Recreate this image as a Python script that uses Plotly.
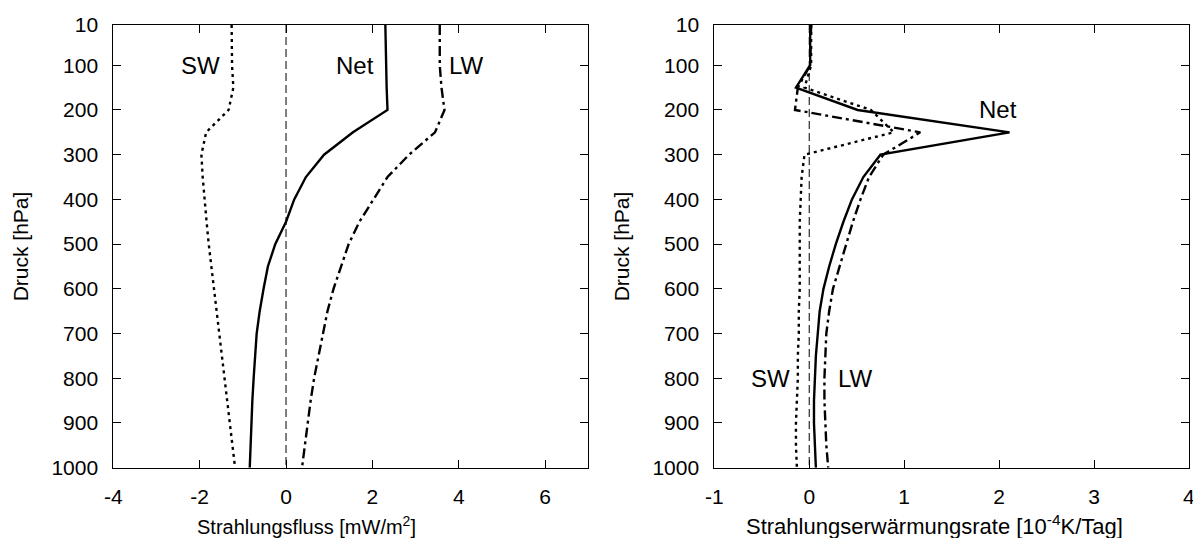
import plotly.graph_objects as go

# ---------------- data ----------------
pressure = [10, 100, 150, 200, 250, 300, 350, 400, 450, 500, 550, 600, 650,
            700, 750, 800, 850, 900, 950, 1000]

# left panel: radiative flux [mW/m^2]
flux_net = [2.30, 2.31, 2.33, 2.35, 1.55, 0.88, 0.46, 0.19, 0.00, -0.25, -0.42,
            -0.52, -0.61, -0.68, -0.72, -0.75, -0.78, -0.80, -0.82, -0.84]
flux_sw = [-1.26, -1.25, -1.22, -1.33, -1.85, -1.96, -1.93, -1.89, -1.84, -1.79,
           -1.73, -1.67, -1.61, -1.54, -1.48, -1.42, -1.37, -1.31, -1.25, -1.18]
flux_lw = [3.56, 3.56, 3.60, 3.67, 3.45, 2.85, 2.35, 2.03, 1.70, 1.45, 1.28,
           1.10, 0.96, 0.86, 0.75, 0.65, 0.57, 0.50, 0.43, 0.37]

# right panel: radiative heating rate [1e-4 K/day]
heat_net = [0.01, 0.01, -0.14, 0.51, 2.11, 0.75, 0.57, 0.45, 0.36, 0.28, 0.21,
            0.15, 0.11, 0.09, 0.07, 0.06, 0.05, 0.05, 0.06, 0.07]
heat_sw = [0.02, 0.02, -0.05, 0.65, 0.89, -0.05, -0.08, -0.09, -0.10, -0.10,
           -0.10, -0.10, -0.11, -0.11, -0.12, -0.12, -0.13, -0.14, -0.14, -0.13]
heat_lw = [0.02, 0.01, -0.12, -0.15, 1.17, 0.78, 0.63, 0.54, 0.46, 0.39, 0.32,
           0.25, 0.21, 0.18, 0.17, 0.16, 0.16, 0.17, 0.18, 0.20]

y_ticks = [10, 100, 200, 300, 400, 500, 600, 700, 800, 900, 1000]
x1_ticks = [-4, -2, 0, 2, 4, 6]
x2_ticks = [-1, 0, 1, 2, 3, 4]

# labels: (text, x, pressure)
labels_left = [("SW", -1.98, 100), ("Net", 1.6, 100), ("LW", 4.18, 100)]
labels_right = [("Net", 1.99, 200), ("SW", -0.41, 800), ("LW", 0.49, 800)]

xtitle_left = "Strahlungsfluss [mW/m<sup>2</sup>]"
xtitle_right = "Strahlungserwärmungsrate [10<sup>-4</sup>K/Tag]"
ytitle = "Druck [hPa]"

# ---------------- figure ----------------
W, H = 1193, 538
FONT = "Liberation Sans, Arial, sans-serif"
TICK_SIZE = 21
LABEL_SIZE = 24
fig = go.Figure()

LW_ = 2.4
def add_set(xa, ya, net, sw, lw):
    fig.add_trace(go.Scatter(x=[0, 0], y=[10, 1000], mode="lines", xaxis=xa, yaxis=ya,
                             line=dict(color="black", width=1, dash="8px,4px"),
                             showlegend=False, hoverinfo="skip"))
    fig.add_trace(go.Scatter(x=sw, y=pressure, mode="lines", xaxis=xa, yaxis=ya,
                             line=dict(color="black", width=LW_, dash="3px,4px"),
                             showlegend=False))
    fig.add_trace(go.Scatter(x=lw, y=pressure, mode="lines", xaxis=xa, yaxis=ya,
                             line=dict(color="black", width=LW_, dash="10px,4px,3px,4px"),
                             showlegend=False))
    fig.add_trace(go.Scatter(x=net, y=pressure, mode="lines", xaxis=xa, yaxis=ya,
                             line=dict(color="black", width=LW_),
                             showlegend=False))

add_set("x", "y", flux_net, flux_sw, flux_lw)
add_set("x2", "y2", heat_net, heat_sw, heat_lw)

for text, xv, yv in labels_left:
    fig.add_annotation(x=xv, y=yv, xref="x", yref="y", text=text, showarrow=False,
                       font=dict(size=LABEL_SIZE, color="black", family=FONT))
for text, xv, yv in labels_right:
    fig.add_annotation(x=xv, y=yv, xref="x2", yref="y2", text=text, showarrow=False,
                       font=dict(size=LABEL_SIZE, color="black", family=FONT))

# plot-area geometry in pixels
L1, R1 = 113.3, 588.3
L2, R2 = 714.3, 1189.0
TOP, BOT = 25.0, 467.7
ydom = [1 - BOT / H, 1 - TOP / H]

# axis titles as annotations (paper coordinates)
fig.add_annotation(x=306 / W, y=1 - 525 / H, xref="paper", yref="paper",
                   text=xtitle_left, showarrow=False,
                   font=dict(size=20, color="black", family=FONT),
                   xanchor="center", yanchor="middle")
fig.add_annotation(x=934 / W, y=1 - 525 / H, xref="paper", yref="paper",
                   text=xtitle_right, showarrow=False,
                   font=dict(size=22, color="black", family=FONT),
                   xanchor="center", yanchor="middle")
yfont = dict(size=21, color="black", family=FONT)
fig.add_annotation(x=20 / W, y=1 - (TOP + BOT) / 2 / H, xref="paper", yref="paper",
                   text=ytitle, showarrow=False, font=yfont, textangle=-90,
                   xanchor="center", yanchor="middle")
fig.add_annotation(x=(20 + L2 - L1) / W, y=1 - (TOP + BOT) / 2 / H, xref="paper", yref="paper",
                   text=ytitle, showarrow=False, font=yfont, textangle=-90,
                   xanchor="center", yanchor="middle")

common_axis = dict(showline=True, linecolor="black", linewidth=1, mirror="allticks",
                   ticks="inside", ticklen=8, tickcolor="black", showgrid=False,
                   zeroline=False, automargin=False, ticklabeloverflow="allow",
                   tickfont=dict(size=TICK_SIZE, color="black", family=FONT))

fig.update_layout(
    width=W, height=H,
    margin=dict(l=0, r=0, t=0, b=0, autoexpand=False),
    paper_bgcolor="white", plot_bgcolor="white",
    font=dict(family=FONT, color="black", size=TICK_SIZE),
    xaxis=dict(domain=[L1 / W, R1 / W], range=[-4, 7], tickvals=x1_ticks,
               ticktext=[str(v) for v in x1_ticks], ticklabelstandoff=10,
               anchor="y", **common_axis),
    yaxis=dict(domain=ydom, range=[1000, 10], tickvals=y_ticks,
               ticktext=[str(v) for v in y_ticks], ticklabelstandoff=10,
               anchor="x", **common_axis),
    xaxis2=dict(domain=[L2 / W, R2 / W], range=[-1, 4.0005], tickvals=x2_ticks,
                ticktext=[str(v) for v in x2_ticks], ticklabelstandoff=10,
                anchor="y2", **common_axis),
    yaxis2=dict(domain=ydom, range=[1000, 10], tickvals=y_ticks,
                ticktext=[str(v) for v in y_ticks], ticklabelstandoff=10,
                anchor="x2", **common_axis),
)

fig.write_html("out.html")
